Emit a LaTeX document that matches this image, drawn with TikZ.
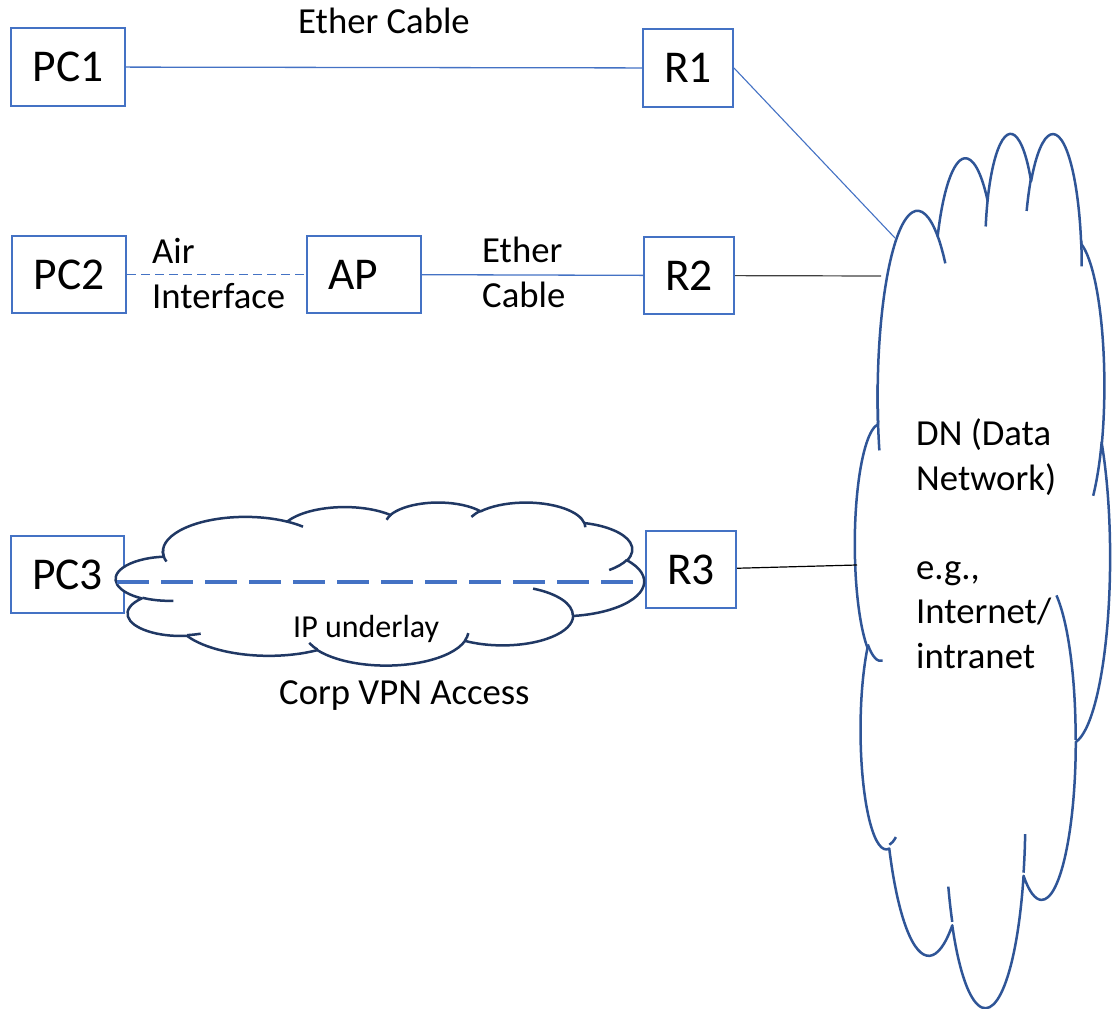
\documentclass[tikz,border=0pt]{standalone}
\usepackage{fontspec}
\setmainfont{Carlito}

\definecolor{boxblue}{HTML}{4472C4}
\definecolor{dnblue}{HTML}{2F5597}
\definecolor{vpnnavy}{HTML}{203864}

% One arc of a cloud outline: radii, start angle and sweep given as angles
% seen from the ellipse centre; converted here to parametric angles.
\newcommand\cldarc[4]{arc[x radius=#1pt, y radius=#2pt,
  start angle={atan2((#1)*sin(#3),(#2)*cos(#3))},
  delta angle={mod(atan2((#1)*sin((#3)+(#4)),(#2)*cos((#3)+(#4)))-atan2((#1)*sin(#3),(#2)*cos(#3))+720,360)}]}

% Cloud outline in a 432 x 432 box (y downwards)
\newcommand\cloudoutline{(39.00,143.70)
  \cldarc{67.53}{91.90}{-190.4875}{123.7805}
  \cldarc{53.33}{72.67}{-144.1024}{89.9452}
  \cldarc{43.65}{59.45}{-145.8079}{99.7230}
  \cldarc{48.57}{65.95}{-130.9861}{117.2417}
  \cldarc{53.33}{72.73}{-78.7089}{109.0269}
  \cldarc{67.75}{92.20}{-46.2673}{130.2690}
  \cldarc{57.85}{78.67}{0.6250}{114.0333}
  \cldarc{67.52}{92.15}{22.4516}{115.1726}
  \cldarc{77.20}{105.43}{66.2426}{75.7110}
  \cldarc{43.60}{59.18}{-274.9421}{146.7356}
  \cldarc{43.45}{59.45}{-246.8285}{152.5189} -- cycle}

% Short inner strokes between the puffs
\newcommand\cloudcreases{
  (46.93,261.77) \cldarc{43.45}{59.45}{86.7420}{26.4295}
  (69.28,348.99) \cldarc{43.60}{59.18}{73.6105}{11.4475}
  (164.78,390.90) \cldarc{67.52}{92.15}{137.6242}{14.0811}
  (288.27,347.51) \cldarc{67.52}{92.15}{6.4533}{15.9984}
  (341.29,229.54) \cldarc{57.85}{78.67}{-70.2924}{70.9174}
  (417.98,153.54) \cldarc{53.33}{72.73}{30.3180}{27.7515}
  (383.24,54.26) \cldarc{48.57}{65.95}{-13.7443}{14.8538}
  (290.78,39.52) \cldarc{48.57}{65.95}{-149.1815}{18.1970}
  (221.41,47.20) \cldarc{43.65}{59.45}{-163.4943}{17.6858}
  (140.00,51.92) \cldarc{67.53}{91.90}{-66.7070}{12.3194}
  (41.27,157.89) \cldarc{67.53}{91.90}{157.65}{27.07}}

\tikzset{
  devbox/.style={draw=boxblue, line width=2pt, inner sep=0pt, minimum height=77pt,
    font=\fontsize{45.5}{54}\selectfont},
  pcbox/.style={devbox, minimum width=114pt},
  rbox/.style={devbox, minimum width=90pt},
  lbl/.style={inner sep=0pt, align=left, font=\fontsize{36.7}{44.5}\selectfont},
  smalllbl/.style={inner sep=0pt, font=\fontsize{32}{38}\selectfont},
  cable/.style={draw=boxblue, line width=1.3pt},
  thincable/.style={draw=boxblue, line width=1.1pt},
  air/.style={draw=boxblue, line width=1.3pt, dash pattern=on 9pt off 5pt},
  uplink/.style={line width=1.2pt},
  tunnel/.style={draw=boxblue, line width=4pt, dash pattern=on 32pt off 12pt},
  cloudline/.style={line width=2.5pt, line join=round},
}

\begin{document}
\begin{tikzpicture}[x=1pt, y=1pt, yscale=-1]
\useasboundingbox (0,0) rectangle (1112,1009);

% devices
\node[pcbox, minimum height=78pt] (pc1) at (68,67) {PC1};
\node[rbox, minimum height=78pt] (r1) at (688,68) {R1};
\node[pcbox] (pc2) at (69,274.5) {PC2};
\node[pcbox] (ap) at (364,274.5) {AP\hspace*{22pt}};
\node[rbox] (r2) at (689,275.5) {R2};
\node[pcbox, minimum width=113pt] (pc3) at (67.5,574.5) {PC3};
\node[rbox] (r3) at (691,569.5) {R3};

% data network cloud
\begin{scope}[shift={(855,131)}, xscale=255/432, yscale=874/432]
  \filldraw[fill=white, draw=dnblue, cloudline] \cloudoutline;
  \draw[draw=dnblue, cloudline] \cloudcreases;
\end{scope}

% VPN underlay cloud
\begin{scope}[shift={(116,502)}, xscale=528/432, yscale=163/432]
  \filldraw[fill=white, draw=vpnnavy, cloudline] \cloudoutline;
  \draw[draw=vpnnavy, cloudline] \cloudcreases;
\end{scope}

% attachment points on the data network
\coordinate (dnR1) at (895,238);
\coordinate (dnR2) at (881,276);
\coordinate (dnR3) at (857,565);
\coordinate (vpnA) at (117,582);
\coordinate (vpnB) at (633,582);

% links
\draw[cable] (pc1) -- (r1);
\draw[thincable] (r1.east) -- (dnR1);
\draw[air] (pc2) -- (ap);
\draw[cable] (ap) -- (r2);
\draw[uplink, draw=black!75] (r2) -- (dnR2);
\draw[uplink, draw=black] (r3) -- (dnR3);
\draw[tunnel] (vpnA) -- (vpnB);

% labels (base anchor of a multi-line label sits on its last line)
\node[lbl, anchor=base] (ethertop) at (384,33) {Ether Cable};
\node[lbl, anchor=base west] (airlbl) at (152,308) {Air\\Interface};
\node[lbl, anchor=base west] (etherlbl) at (482,307) {Ether\\Cable};
\node[lbl, anchor=base west] (dnlbl) at (916,668) {DN (Data\\Network)\\[44.5pt]e.g.,\\Internet/\\intranet};
\node[smalllbl, anchor=base west] (iplbl) at (293,637) {IP underlay};
\node[lbl, anchor=base west] (vpnlbl) at (279,704) {Corp VPN Access};
\end{tikzpicture}
\end{document}
